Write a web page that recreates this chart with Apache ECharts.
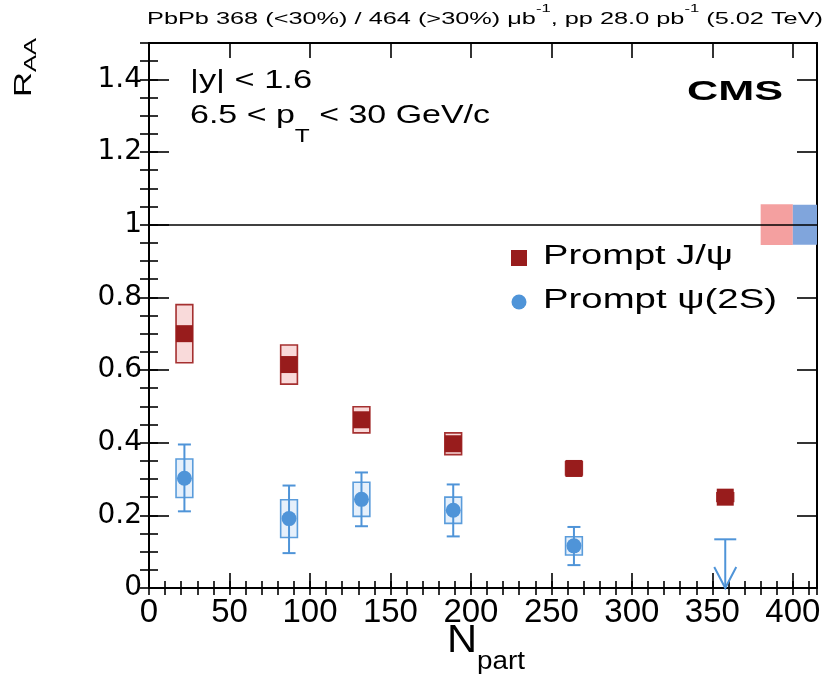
<!DOCTYPE html>
<html>
<head>
<meta charset="utf-8">
<script src="https://cdn.jsdelivr.net/npm/echarts@6/dist/echarts.min.js"></script>
<style>
  html, body { margin: 0; padding: 0; background: #fff; }
  #chart { width: 827px; height: 680px; }
</style>
</head>
<body>
<div id="chart"></div>
<script>
// ---- data -------------------------------------------------------------
// Prompt J/psi nuclear modification factor vs. number of participants
const npartJpsi = [22, 87, 132, 189, 264, 358];
const raaJpsi   = [0.700, 0.615, 0.463, 0.397, 0.329, 0.250];
const statJpsi  = [0.020, 0.020, 0.020, 0.015, 0.010, 0.010];
const systJpsi  = [0.080, 0.054, 0.036, 0.030, 0.018, 0.012];

// Prompt psi(2S)
const npartPsi2S    = [22, 87, 132, 189, 264];
const raaPsi2S      = [0.302, 0.191, 0.244, 0.214, 0.116];
const statUpPsi2S   = [0.093, 0.091, 0.074, 0.071, 0.052];
const statDownPsi2S = [0.091, 0.095, 0.074, 0.072, 0.053];
const systPsi2S     = [0.053, 0.052, 0.047, 0.036, 0.025];

// psi(2S) upper limit in the most central bin
const limitNpart = [358];
const limitPsi2S = [0.134];

// global (fully correlated) uncertainties at unity: [N_part low, N_part high, half height]
const globalJpsi  = [380, 400, 0.056];
const globalPsi2S = [400, 420, 0.055];
const UNITY = 1;

// axes
const xRange = [0, 415];
const yRange = [0, 1.5];
const xMajorStep = 50, xMinorStep = 10;
const yMajorStep = 0.2, yMinorStep = 0.05;

// ---- style ------------------------------------------------------------
const BOX_HALF = 5.2;          // half width of systematic boxes, in N_part
const CAP_PX = 6.5;            // error bar cap half width, px
const RED = '#981c1c', RED_EDGE = '#a53030', RED_FILL = '#f9dada';
const BLUE = '#4f94d8', BLUE_EDGE = '#5a9cdb', BLUE_FILL = '#e6f0fb';
const FONT = 'Liberation Sans';

const chart = echarts.init(document.getElementById('chart'), null, { renderer: 'canvas' });

function systBoxes(xs, ys, syst, fill, stroke, z) {
  return {
    type: 'custom', xAxisIndex: 0, yAxisIndex: 0, z, silent: true,
    data: xs.map((x, i) => [x, ys[i], syst[i]]),
    renderItem(params, api) {
      const x = api.value(0), y = api.value(1), s = api.value(2);
      const a = api.coord([x - BOX_HALF, y + s]);
      const b = api.coord([x + BOX_HALF, y - s]);
      return {
        type: 'rect',
        shape: { x: a[0], y: a[1], width: b[0] - a[0], height: b[1] - a[1] },
        style: { fill, stroke, lineWidth: 1.6 }
      };
    }
  };
}

function errorBars(xs, ys, up, down, color, cap, z) {
  return {
    type: 'custom', xAxisIndex: 0, yAxisIndex: 0, z, silent: true,
    data: xs.map((x, i) => [x, ys[i], up[i], down[i]]),
    renderItem(params, api) {
      const x = api.value(0), y = api.value(1);
      const t = api.coord([x, y + api.value(2)]);
      const b = api.coord([x, y - api.value(3)]);
      const st = { stroke: color, lineWidth: 2 };
      const children = [{ type: 'line', shape: { x1: t[0], y1: t[1], x2: b[0], y2: b[1] }, style: st }];
      if (cap > 0) {
        children.push({ type: 'line', shape: { x1: t[0] - cap, y1: t[1], x2: t[0] + cap, y2: t[1] }, style: st });
        children.push({ type: 'line', shape: { x1: b[0] - cap, y1: b[1], x2: b[0] + cap, y2: b[1] }, style: st });
      }
      return { type: 'group', children };
    }
  };
}

function globalBox(box, fill) {
  return {
    type: 'custom', xAxisIndex: 0, yAxisIndex: 0, z: 2, silent: true,
    data: [box],
    renderItem(params, api) {
      const a = api.coord([api.value(0), UNITY + api.value(2)]);
      const b = api.coord([api.value(1), UNITY - api.value(2)]);
      const cs = params.coordSys;
      const r = echarts.graphic.clipRectByRect(
        { x: a[0], y: a[1], width: b[0] - a[0], height: b[1] - a[1] },
        { x: cs.x, y: cs.y, width: cs.width, height: cs.height });
      return r && { type: 'rect', shape: r, style: { fill } };
    }
  };
}

// ---- text helpers (real text, horizontally stretched to the layout) ----
const measureCtx = document.createElement('canvas').getContext('2d');
function textRun(pieces, left, width, extra) {
  const widths = pieces.map(p => {
    measureCtx.font = `${p.weight || 'normal'} ${p.size}px "${p.family || FONT}"`;
    return measureCtx.measureText(p.text).width;
  });
  const total = widths.reduce((a, b) => a + b, 0);
  const s = width / total;
  let acc = 0;
  return pieces.map((p, i) => {
    const el = {
      type: 'text', x: left + acc * s, y: p.y, scaleX: s, silent: true,
      style: {
        text: p.text, fill: '#000', fontSize: p.size, fontFamily: p.family || FONT,
        fontWeight: p.weight || 'normal', align: 'left', verticalAlign: 'middle',
        textAlign: 'left', textVerticalAlign: 'middle'
      }
    };
    acc += widths[i];
    return Object.assign(el, extra || {});
  });
}

const graphics = [].concat(
  textRun([
    { text: 'PbPb 368 (<30%) / 464 (>30%) \u03bcb', size: 16, y: 19.5 },
    { text: '-1', size: 10.5, y: 9 },
    { text: ', pp 28.0 pb', size: 16, y: 19.5 },
    { text: '-1', size: 10.5, y: 9 },
    { text: ' (5.02 TeV)', size: 16, y: 19.5 }
  ], 147, 676),
  textRun([{ text: '|y| < 1.6', size: 25, y: 81 }], 190, 122),
  textRun([
    { text: '6.5 < p', size: 25, y: 116 },
    { text: 'T', size: 18, y: 137 },
    { text: ' < 30 GeV/c', size: 25, y: 116 }
  ], 190, 300),
  textRun([{ text: 'CMS', size: 28, weight: 'bold', y: 92 }], 687, 96),
  textRun([{ text: 'Prompt J/\u03c8', size: 27, y: 257 }], 543, 190),
  textRun([{ text: 'Prompt \u03c8(2S)', size: 27, y: 301 }], 543, 234),
  textRun([
    { text: 'N', size: 39, y: 641 },
    { text: 'part', size: 26, y: 662 }
  ], 447, 78),
  [
    {
      type: 'group', x: 25, y: 97, rotation: Math.PI / 2, silent: true,
      children: textRun([
        { text: 'R', size: 23, y: 0 },
        { text: 'AA', size: 17, y: 6.5 }
      ], 0, 59)
    },
    { type: 'rect', shape: { x: 511, y: 250, width: 16, height: 16 }, style: { fill: RED }, silent: true },
    { type: 'circle', shape: { cx: 519, cy: 302, r: 7.5 }, style: { fill: BLUE }, silent: true }
  ]
);

// ---- axes -------------------------------------------------------------
const axisLine = { show: true, onZero: false, lineStyle: { color: '#000', width: 2 } };
const tickStyle = { color: '#000', width: 1.6 };
function xAx(position, step, len, labels) {
  return {
    type: 'value', position, min: xRange[0], max: xRange[1], interval: step,
    axisLine: labels !== null ? axisLine : { show: false },
    axisTick: { show: true, inside: true, length: len, lineStyle: tickStyle },
    axisLabel: labels ? Object.assign({ show: true, showMaxLabel: false }, labels) : { show: false },
    splitLine: { show: false }
  };
}
function yAx(position, step, len, labels) {
  return {
    type: 'value', position, min: yRange[0], max: yRange[1], interval: step,
    axisLine: labels !== null ? axisLine : { show: false },
    axisTick: { show: true, inside: true, length: len, lineStyle: tickStyle },
    axisLabel: labels ? Object.assign({ show: true, showMaxLabel: false }, labels) : { show: false },
    splitLine: { show: false }
  };
}
const xLabels = { color: '#000', fontSize: 33, margin: 8,
  fontFamily: '"Liberation Sans Narrow", "Liberation Sans", sans-serif' };
const yLabels = { color: '#000', fontSize: 28, margin: 7, fontFamily: '"DejaVu Sans", sans-serif' };

const option = {
  animation: false,
  backgroundColor: '#fff',
  grid: { left: 149, right: 10, top: 43, bottom: 92, containLabel: false, outerBoundsMode: 'none' },
  xAxis: [
    xAx('bottom', xMajorStep, 15, xLabels),
    xAx('top', xMajorStep, 15, false),
    xAx('bottom', xMinorStep, 7, null),
    xAx('top', xMinorStep, 7, null)
  ],
  yAxis: [
    yAx('left', yMajorStep, 20, yLabels),
    yAx('right', yMajorStep, 20, false),
    yAx('left', yMinorStep, 9, null),
    yAx('right', yMinorStep, 9, null)
  ],
  graphic: { elements: graphics },
  series: [
    globalBox(globalJpsi, '#f4a0a0'),
    globalBox(globalPsi2S, '#80a5dc'),
    systBoxes(npartJpsi, raaJpsi, systJpsi, RED_FILL, RED_EDGE, 3),
    systBoxes(npartPsi2S, raaPsi2S, systPsi2S, BLUE_FILL, BLUE_EDGE, 3),
    errorBars(npartJpsi, raaJpsi, statJpsi, statJpsi, RED, 0, 4),
    errorBars(npartPsi2S, raaPsi2S, statUpPsi2S, statDownPsi2S, BLUE, CAP_PX, 4),
    {
      type: 'custom', xAxisIndex: 0, yAxisIndex: 0, z: 4, silent: true,
      data: limitNpart.map((x, i) => [x, limitPsi2S[i]]),
      renderItem(params, api) {
        const t = api.coord([api.value(0), api.value(1)]);
        const b = api.coord([api.value(0), 0]);
        const st = { stroke: BLUE, lineWidth: 2, fill: null };
        return {
          type: 'group', children: [
            { type: 'line', shape: { x1: t[0], y1: t[1], x2: b[0], y2: b[1] }, style: st },
            { type: 'line', shape: { x1: t[0] - 11, y1: t[1], x2: t[0] + 11, y2: t[1] }, style: st },
            { type: 'polyline', shape: { points: [[b[0] - 11, b[1] - 21], [b[0], b[1]], [b[0] + 11, b[1] - 21]] }, style: st }
          ]
        };
      }
    },
    {
      name: 'Prompt J/\u03c8', type: 'scatter', xAxisIndex: 0, yAxisIndex: 0, z: 5, silent: true,
      symbol: 'rect', symbolSize: 17, itemStyle: { color: RED, opacity: 1 },
      data: npartJpsi.map((x, i) => [x, raaJpsi[i]]),
      markLine: {
        silent: true, symbol: ['none', 'none'], label: { show: false },
        lineStyle: { color: '#000', width: 1.5, type: 'solid' },
        data: [{ yAxis: UNITY }]
      }
    },
    {
      name: 'Prompt \u03c8(2S)', type: 'scatter', xAxisIndex: 0, yAxisIndex: 0, z: 5, silent: true,
      symbol: 'circle', symbolSize: 15, itemStyle: { color: BLUE, opacity: 1 },
      data: npartPsi2S.map((x, i) => [x, raaPsi2S[i]])
    }
  ]
};
chart.setOption(option);
</script>
</body>
</html>
